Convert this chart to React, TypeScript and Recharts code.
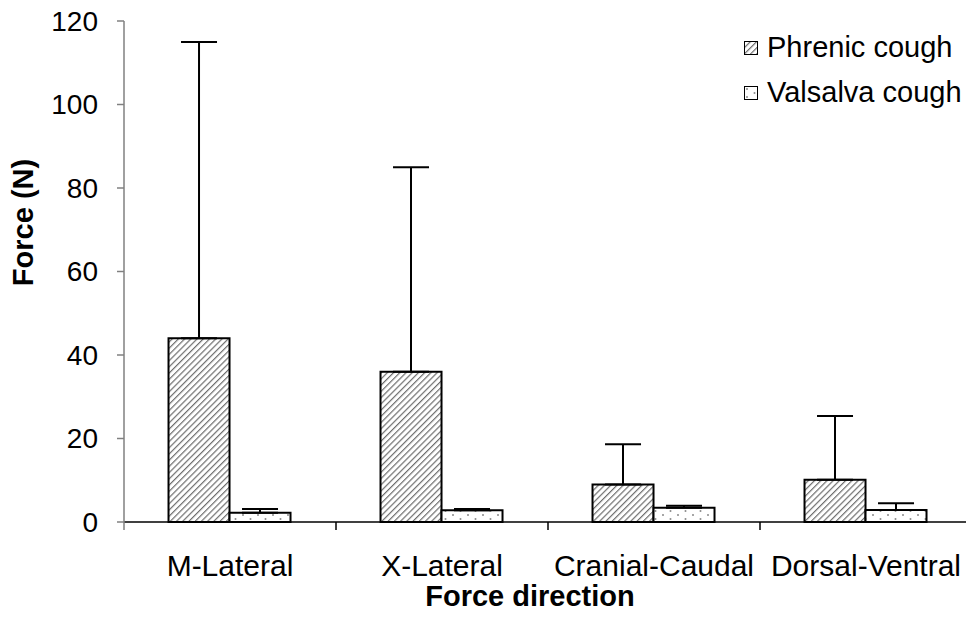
import React from "react";
import { BarChart, Bar, XAxis, YAxis, ErrorBar, Legend } from "recharts";

const directions = ["M-Lateral", "X-Lateral", "Cranial-Caudal", "Dorsal-Ventral"];
const phrenicMean = [44, 36, 9, 10.1];
const phrenicSd = [71, 49, 9.6, 15.3];
const valsalvaMean = [2.2, 2.8, 3.4, 2.9];
const valsalvaSd = [0.9, 0.3, 0.5, 1.6];
const yTicks = [0, 20, 40, 60, 80, 100, 120];

// one-sided (upward) error bars: [below, above]
const data = directions.map((direction, i) => ({
  direction,
  phrenic: phrenicMean[i],
  phrenicErr: [0, phrenicSd[i]],
  valsalva: valsalvaMean[i],
  valsalvaErr: [0, valsalvaSd[i]],
}));

const series = [
  { name: "Phrenic cough", fill: "url(#hatch)" },
  { name: "Valsalva cough", fill: "url(#dots)" },
];

const font = "'Liberation Sans', Arial, sans-serif";

const CategoryTick = ({ x, y, payload, index }: any) => {
  const half = payload.offset ?? 0;
  return (
    <g>
      <line
        x1={x - half}
        x2={x - half}
        y1={y}
        y2={y + 8}
        stroke={index === 0 ? "#808080" : "#000"}
        strokeWidth={1.5}
      />
      <text x={x} y={y + 54} textAnchor="middle" fontSize={30} fill="#000" fontFamily={font}>
        {payload.value}
      </text>
    </g>
  );
};

const XTitle = ({ viewBox }: any) => (
  <text
    x={viewBox.x + viewBox.width / 2 - 18}
    y={viewBox.y + 84}
    textAnchor="middle"
    fontSize={29}
    fontWeight="bold"
    fontFamily={font}
    fill="#000"
  >
    Force direction
  </text>
);

const YTitle = ({ viewBox }: any) => {
  const cx = viewBox.x + 23;
  const cy = viewBox.y + viewBox.height / 2 - 49;
  return (
    <text
      x={cx}
      y={cy}
      transform={`rotate(-90 ${cx} ${cy})`}
      textAnchor="middle"
      dominantBaseline="central"
      fontSize={29}
      fontWeight="bold"
      fontFamily={font}
      fill="#000"
    >
      Force (N)
    </text>
  );
};

const LegendBox = () => (
  <div style={{ fontFamily: font, fontSize: 29, color: "#000", whiteSpace: "nowrap" }}>
    {series.map((s) => (
      <div key={s.name} style={{ display: "flex", alignItems: "center", height: 45 }}>
        <svg width={14} height={14} style={{ marginRight: 9, flex: "none" }}>
          <rect x={0.5} y={0.5} width={13} height={13} fill={s.fill} stroke="#000" strokeWidth={1} />
        </svg>
        <span>{s.name}</span>
      </div>
    ))}
  </div>
);

export default function App() {
  return (
    <div style={{ margin: -8, background: "#fff", width: 974, height: 619 }}>
      <BarChart
        width={974}
        height={619}
        data={data}
        margin={{ top: 21, right: 2, bottom: 0, left: 0 }}
        barCategoryGap="21%"
        barGap={0}
      >
        <defs>
          <pattern id="hatch" width="4.4" height="4.4" patternUnits="userSpaceOnUse" patternTransform="rotate(45)">
            <rect width="4.4" height="4.4" fill="#fff" />
            <line x1="0" y1="0" x2="0" y2="4.4" stroke="#6e6e6e" strokeWidth="2.4" />
          </pattern>
          <pattern id="dots" width="15" height="8" patternUnits="userSpaceOnUse">
            <rect width="15" height="8" fill="#fff" />
            <circle cx="3" cy="3" r="1" fill="#8a8a8a" />
            <circle cx="10.5" cy="7" r="1" fill="#8a8a8a" />
          </pattern>
        </defs>
        <XAxis
          dataKey="direction"
          stroke="#000"
          strokeWidth={1.5}
          tickLine={false}
          tickSize={0}
          tickMargin={0}
          height={97}
          interval={0}
          tick={<CategoryTick />}
          label={<XTitle />}
        />
        <YAxis
          domain={[0, 120]}
          ticks={yTicks}
          width={124}
          stroke="#808080"
          strokeWidth={1.5}
          tickSize={7}
          tickMargin={19}
          tick={{ fill: "#000", fontSize: 28, fontFamily: font }}
          label={<YTitle />}
        />
        <Legend
          layout="horizontal"
          verticalAlign="middle"
          align="center"
          content={<LegendBox />}
          wrapperStyle={{ top: 25, left: 744, width: 232, height: 90 }}
        />
        <Bar dataKey="phrenic" name="Phrenic cough" fill="url(#hatch)" stroke="#000" strokeWidth={2} isAnimationActive={false}>
          <ErrorBar dataKey="phrenicErr" direction="y" width={18} stroke="#000" strokeWidth={2} />
        </Bar>
        <Bar dataKey="valsalva" name="Valsalva cough" fill="url(#dots)" stroke="#000" strokeWidth={2} isAnimationActive={false}>
          <ErrorBar dataKey="valsalvaErr" direction="y" width={18} stroke="#000" strokeWidth={2} />
        </Bar>
      </BarChart>
    </div>
  );
}
